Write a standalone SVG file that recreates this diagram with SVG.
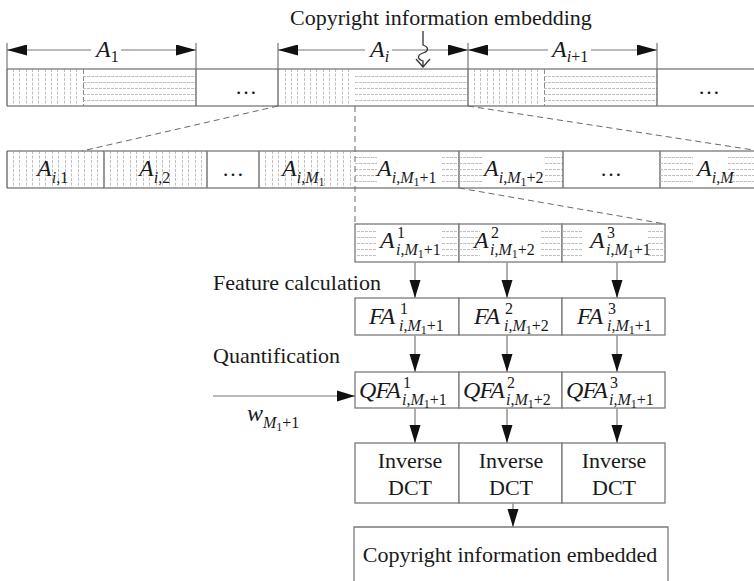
<svg xmlns="http://www.w3.org/2000/svg" width="754" height="581" viewBox="0 0 754 581">
<defs>
<style>
.t{font-family:"Liberation Serif","Times New Roman",serif;font-size:22px;fill:#1a1a1a}
.m{font-style:italic}
.mm{font-size:24px;font-style:italic}
.s{font-size:16px}
.ss{font-size:12px}
.fr{fill:none;stroke:#8a8a8a;stroke-width:1.3}
.dv{fill:none;stroke:#555;stroke-width:1.2}
.box{fill:#fff;stroke:#7a7a7a;stroke-width:1.3}
.vh{fill:none;stroke:#b8b8b8;stroke-width:0.9;stroke-dasharray:3 1.5}
.hh{fill:none;stroke:#b8b8b8;stroke-width:0.9;stroke-dasharray:3 1}
.hb{fill:none;stroke:#8a8a8a;stroke-width:1;stroke-dasharray:5 2}
.dash{fill:none;stroke:#6a6a6a;stroke-width:1;stroke-dasharray:6 4}
.dim{fill:none;stroke:#777;stroke-width:1.2}
.flow{fill:none;stroke:#9a9a9a;stroke-width:1.6}
.sq{fill:none;stroke:#333;stroke-width:1.3}
</style>
<marker id="ah" markerUnits="userSpaceOnUse" markerWidth="18" markerHeight="12" refX="18" refY="6" orient="auto"><path d="M0,0.5 L18,6 L0,11.5 Z" fill="#111"/></marker>
<marker id="dh" markerUnits="userSpaceOnUse" markerWidth="20" markerHeight="11" refX="20" refY="5.5" orient="auto-start-reverse"><path d="M0,0 L20,5.5 L0,11 Z" fill="#111"/></marker>
</defs>
<rect width="754" height="581" fill="#fff"/>

<g id="title"><text class="t" x="290" y="25">Copyright information embedding</text></g>

<!-- top bar -->
<g id="seg-A1">
<path class="vh" d="M13.5,69V106M19.5,69V106M26.5,69V106M32.5,69V106M38.5,69V106M45.5,69V106M51.5,69V106M57.5,69V106M64.5,69V106M70.5,69V106M76.5,69V106"/>
<path class="hb" d="M83.5,69V106"/>
<path class="hh" d="M83,76.5H196M83,82.5H196M83,88.5H196M83,94.5H196M83,100.5H196"/>
<path class="fr" d="M7,69H196M7,106H196"/>
<path class="dv" d="M7,69V106M196,69V106"/>
</g>
<g id="seg-dots1">
<path class="fr" d="M196,69H278M196,106H278"/>
<text class="t" x="246" y="94" text-anchor="middle">…</text>
</g>
<g id="seg-Ai">
<path class="vh" d="M285.5,69V106M291.5,69V106M297.5,69V106M304.5,69V106M310.5,69V106M316.5,69V106M323.5,69V106M329.5,69V106M335.5,69V106M342.5,69V106M348.5,69V106"/>
<path class="hh" d="M355,76.5H468M355,82.5H468M355,88.5H468M355,94.5H468M355,100.5H468"/>
<path class="fr" d="M278,69H468M278,106H468"/>
<path class="dv" d="M278,69V106M468,69V106"/>
</g>
<g id="seg-Ai1">
<path class="vh" d="M474.5,69V106M480.5,69V106M487.5,69V106M493.5,69V106M499.5,69V106M506.5,69V106M512.5,69V106M518.5,69V106M525.5,69V106M531.5,69V106M537.5,69V106"/>
<path class="hb" d="M544.5,69V106"/>
<path class="hh" d="M544,76.5H657M544,82.5H657M544,88.5H657M544,94.5H657M544,100.5H657"/>
<path class="fr" d="M468,69H657M468,106H657"/>
<path class="dv" d="M657,69V106"/>
</g>
<g id="seg-dots2">
<path class="fr" d="M657,69H754M657,106H754"/>
<text class="t" x="709" y="94" text-anchor="middle">…</text>
</g>

<!-- dimension labels -->
<g id="dim-labels">
<text class="t" x="96" y="57"><tspan class="mm">A</tspan><tspan class="s" dy="5">1</tspan></text>
<text class="t" x="370" y="57"><tspan class="mm">A</tspan><tspan class="m s" dy="5">i</tspan></text>
<text class="t" x="552" y="57"><tspan class="mm">A</tspan><tspan class="m s" dy="5">i</tspan><tspan class="s">+1</tspan></text>
</g>

<!-- row 2 -->
<g id="r2-c1">
<path class="vh" d="M13.5,151V188M19.5,151V188M26.5,151V188M32.5,151V188M39.5,151V188M45.5,151V188M52.5,151V188M58.5,151V188M65.5,151V188M71.5,151V188M78.5,151V188M84.5,151V188M91.5,151V188M97.5,151V188"/>
<path class="fr" d="M7,151H104M7,188H104"/>
<path class="dv" d="M7,151V188M104,151V188"/>
<text class="t" x="37" y="176"><tspan class="mm">A</tspan><tspan class="m s" dy="7">i</tspan><tspan class="s">,1</tspan></text>
</g>
<g id="r2-c2">
<path class="vh" d="M110.5,151V188M117.5,151V188M123.5,151V188M130.5,151V188M136.5,151V188M143.5,151V188M149.5,151V188M156.5,151V188M162.5,151V188M169.5,151V188M175.5,151V188M182.5,151V188M188.5,151V188M195.5,151V188M201.5,151V188"/>
<path class="fr" d="M104,151H207M104,188H207"/>
<path class="dv" d="M207,151V188"/>
<text class="t" x="139" y="176"><tspan class="mm">A</tspan><tspan class="m s" dy="7">i</tspan><tspan class="s">,2</tspan></text>
</g>
<g id="r2-c3">
<path class="fr" d="M207,151H259M207,188H259"/>
<path class="dv" d="M259,151V188"/>
<text class="t" x="233" y="176" text-anchor="middle">…</text>
</g>
<g id="r2-c4">
<path class="vh" d="M265.5,151V188M272.5,151V188M278.5,151V188M285.5,151V188M291.5,151V188M298.5,151V188M304.5,151V188M311.5,151V188M317.5,151V188M324.5,151V188M330.5,151V188M337.5,151V188M343.5,151V188M350.5,151V188"/>
<path class="fr" d="M259,151H355M259,188H355"/>
<text class="t" x="282" y="176"><tspan class="mm">A</tspan><tspan class="m s" dy="7">i</tspan><tspan class="s">,</tspan><tspan class="m s">M</tspan><tspan class="ss" dy="3">1</tspan></text>
</g>
<g id="r2-c5">
<path class="hh" d="M355,157.5H377M355,163.5H377M355,169.5H377M355,175.5H377M355,181.5H377M442,157.5H459M442,163.5H459M442,169.5H459M442,175.5H459M442,181.5H459"/>
<path class="fr" d="M355,151H459M355,188H459"/>
<path class="dv" d="M459,151V188"/>
<text class="t" x="377" y="176"><tspan class="mm">A</tspan><tspan class="m s" dy="7">i</tspan><tspan class="s">,</tspan><tspan class="m s">M</tspan><tspan class="ss" dy="3">1</tspan><tspan class="s" dy="-3">+1</tspan></text>
</g>
<g id="r2-c6">
<path class="hh" d="M459,157.5H482M459,163.5H482M459,169.5H482M459,175.5H482M459,181.5H482M545,157.5H563M545,163.5H563M545,169.5H563M545,175.5H563M545,181.5H563"/>
<path class="fr" d="M459,151H563M459,188H563"/>
<path class="dv" d="M563,151V188"/>
<text class="t" x="484" y="176"><tspan class="mm">A</tspan><tspan class="m s" dy="7">i</tspan><tspan class="s">,</tspan><tspan class="m s">M</tspan><tspan class="ss" dy="3">1</tspan><tspan class="s" dy="-3">+2</tspan></text>
</g>
<g id="r2-c7">
<path class="fr" d="M563,151H660M563,188H660"/>
<path class="dv" d="M660,151V188"/>
<text class="t" x="611" y="176" text-anchor="middle">…</text>
</g>
<g id="r2-c8">
<path class="hh" d="M660,157.5H693M660,163.5H693M660,169.5H693M660,175.5H693M660,181.5H693M728,157.5H754M728,163.5H754M728,169.5H754M728,175.5H754M728,181.5H754"/>
<path class="fr" d="M660,151H754M660,188H754"/>
<text class="t" x="697" y="176"><tspan class="mm">A</tspan><tspan class="m s" dy="7">i</tspan><tspan class="s">,</tspan><tspan class="m s">M</tspan></text>
</g>

<!-- row 3 -->
<g id="r3-c1">
<rect class="box" x="355" y="224" width="104" height="38"/>
<path class="hh" d="M357,231.5H377M357,237.5H377M357,243.5H377M357,249.5H377M357,255.5H377M442,231.5H459M442,237.5H459M442,243.5H459M442,249.5H459M442,255.5H459"/>
<text class="t mm" x="380" y="248">A</text>
<text class="t s" x="397" y="238">1</text>
<text class="t s" x="396" y="255"><tspan class="m">i</tspan>,<tspan class="m">M</tspan><tspan class="ss" dy="3">1</tspan><tspan dy="-3">+1</tspan></text>
</g>
<g id="r3-c2">
<rect class="box" x="459" y="224" width="103" height="38"/>
<path class="hh" d="M459,231.5H480M459,237.5H480M459,243.5H480M459,249.5H480M459,255.5H480M541,231.5H562M541,237.5H562M541,243.5H562M541,249.5H562M541,255.5H562"/>
<text class="t mm" x="474" y="248">A</text>
<text class="t s" x="491" y="238">2</text>
<text class="t s" x="490" y="255"><tspan class="m">i</tspan>,<tspan class="m">M</tspan><tspan class="ss" dy="3">1</tspan><tspan dy="-3">+2</tspan></text>
</g>
<g id="r3-c3">
<rect class="box" x="562" y="224" width="103" height="38"/>
<path class="hh" d="M563,231.5H583M563,237.5H583M563,243.5H583M563,249.5H583M563,255.5H583M648,231.5H665M648,237.5H665M648,243.5H665M648,249.5H665M648,255.5H665"/>
<text class="t mm" x="590" y="248">A</text>
<text class="t s" x="607" y="238">3</text>
<text class="t s" x="606" y="255"><tspan class="m">i</tspan>,<tspan class="m">M</tspan><tspan class="ss" dy="3">1</tspan><tspan dy="-3">+1</tspan></text>
</g>

<g id="lbl-feature"><text class="t" x="213" y="290">Feature calculation</text></g>

<!-- FA row -->
<g id="fa-1">
<rect class="box" x="355" y="298" width="104" height="37"/>
<text class="t mm" x="369" y="324">FA</text>
<text class="t s" x="400" y="314">1</text>
<text class="t s" x="399" y="331"><tspan class="m">i</tspan>,<tspan class="m">M</tspan><tspan class="ss" dy="3">1</tspan><tspan dy="-3">+1</tspan></text>
</g>
<g id="fa-2">
<rect class="box" x="459" y="298" width="103" height="37"/>
<text class="t mm" x="474" y="324">FA</text>
<text class="t s" x="505" y="314">2</text>
<text class="t s" x="504" y="331"><tspan class="m">i</tspan>,<tspan class="m">M</tspan><tspan class="ss" dy="3">1</tspan><tspan dy="-3">+2</tspan></text>
</g>
<g id="fa-3">
<rect class="box" x="562" y="298" width="103" height="37"/>
<text class="t mm" x="577" y="324">FA</text>
<text class="t s" x="608" y="314">3</text>
<text class="t s" x="607" y="331"><tspan class="m">i</tspan>,<tspan class="m">M</tspan><tspan class="ss" dy="3">1</tspan><tspan dy="-3">+1</tspan></text>
</g>

<g id="lbl-quant"><text class="t" x="213" y="363">Quantification</text></g>

<!-- QFA row -->
<g id="qfa-1">
<rect class="box" x="355" y="372" width="104" height="36"/>
<text class="t mm" x="359" y="398" textLength="42">QFA</text>
<text class="t s" x="403" y="388">1</text>
<text class="t s" x="402" y="405"><tspan class="m">i</tspan>,<tspan class="m">M</tspan><tspan class="ss" dy="3">1</tspan><tspan dy="-3">+1</tspan></text>
</g>
<g id="qfa-2">
<rect class="box" x="459" y="372" width="103" height="36"/>
<text class="t mm" x="463" y="398" textLength="42">QFA</text>
<text class="t s" x="507" y="388">2</text>
<text class="t s" x="506" y="405"><tspan class="m">i</tspan>,<tspan class="m">M</tspan><tspan class="ss" dy="3">1</tspan><tspan dy="-3">+2</tspan></text>
</g>
<g id="qfa-3">
<rect class="box" x="562" y="372" width="103" height="36"/>
<text class="t mm" x="566" y="398" textLength="42">QFA</text>
<text class="t s" x="610" y="388">3</text>
<text class="t s" x="609" y="405"><tspan class="m">i</tspan>,<tspan class="m">M</tspan><tspan class="ss" dy="3">1</tspan><tspan dy="-3">+1</tspan></text>
</g>

<g id="lbl-w"><text class="t" x="247" y="421"><tspan class="mm">w</tspan><tspan class="m s" dy="7">M</tspan><tspan class="ss" dy="3">1</tspan><tspan class="s" dy="-3">+1</tspan></text></g>

<!-- IDCT row -->
<g id="idct-1">
<rect class="box" x="355" y="443" width="104" height="60"/>
<text class="t" x="410" y="468" text-anchor="middle">Inverse</text>
<text class="t" x="410" y="495" text-anchor="middle">DCT</text>
</g>
<g id="idct-2">
<rect class="box" x="459" y="443" width="103" height="60"/>
<text class="t" x="511" y="468" text-anchor="middle">Inverse</text>
<text class="t" x="511" y="495" text-anchor="middle">DCT</text>
</g>
<g id="idct-3">
<rect class="box" x="562" y="443" width="103" height="60"/>
<text class="t" x="614" y="468" text-anchor="middle">Inverse</text>
<text class="t" x="614" y="495" text-anchor="middle">DCT</text>
</g>

<g id="result">
<path class="box" d="M354,592V527H668V592"/>
<text class="t" x="510" y="562" text-anchor="middle">Copyright information embedded</text>
</g>

<!-- connectors -->
<g id="connectors">
<path class="dim" d="M7,43V69M196,43V69M278,43V69M468,43V69M657,43V69"/>
<path class="dim" d="M7,50H91" marker-start="url(#dh)"/>
<path class="dim" d="M121,50H196" marker-end="url(#dh)"/>
<path class="dim" d="M278,50H365" marker-start="url(#dh)"/>
<path class="dim" d="M392,50H468" marker-end="url(#dh)"/>
<path class="dim" d="M468,50H548" marker-start="url(#dh)"/>
<path class="dim" d="M591,50H657" marker-end="url(#dh)"/>
<path class="sq" d="M423,31V45C429,47 429,51 423,53C417,55 417,59 423,61V67M416,59L423,67L430,59"/>
<path class="dash" d="M278,106L82,151"/>
<path class="dash" d="M468,106L760,151"/>
<path class="dash" d="M355,106V224"/>
<path class="dash" d="M459,188L665,224"/>
<path class="flow" d="M415,262V298" marker-end="url(#ah)"/>
<path class="flow" d="M507,262V298" marker-end="url(#ah)"/>
<path class="flow" d="M617,262V298" marker-end="url(#ah)"/>
<path class="flow" d="M415,335V372" marker-end="url(#ah)"/>
<path class="flow" d="M507,335V372" marker-end="url(#ah)"/>
<path class="flow" d="M617,335V372" marker-end="url(#ah)"/>
<path class="flow" d="M415,408V443" marker-end="url(#ah)"/>
<path class="flow" d="M507,408V443" marker-end="url(#ah)"/>
<path class="flow" d="M617,408V443" marker-end="url(#ah)"/>
<path class="flow" d="M513,503V527" marker-end="url(#ah)"/>
<path class="dim" d="M213,396H355" marker-end="url(#ah)"/>
</g>
</svg>
